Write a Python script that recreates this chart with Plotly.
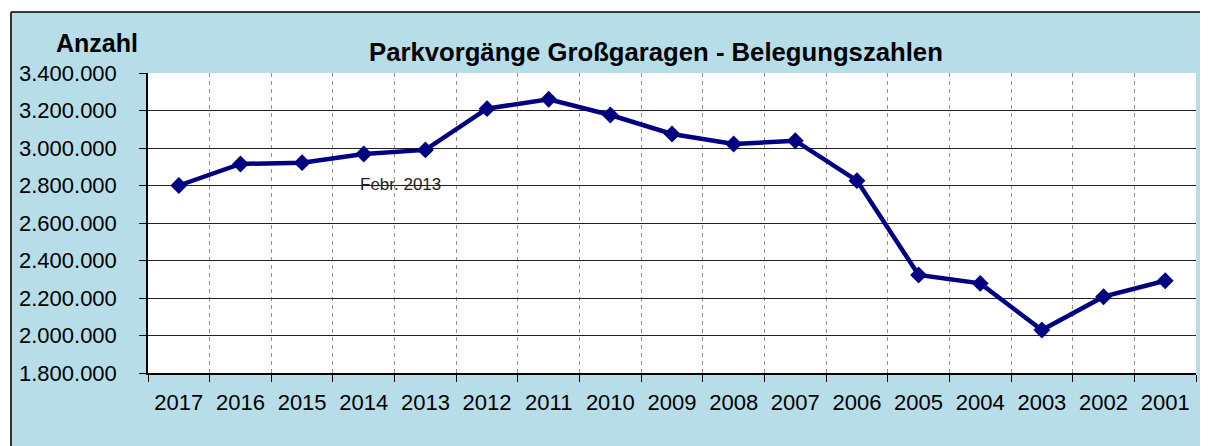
import plotly.graph_objects as go

years = ["2017", "2016", "2015", "2014", "2013", "2012", "2011", "2010", "2009",
         "2008", "2007", "2006", "2005", "2004", "2003", "2002", "2001"]
values = [2800000, 2915000, 2922000, 2968000, 2990000, 3210000, 3260000, 3176000,
          3075000, 3021000, 3039000, 2826000, 2323000, 2278000, 2029000, 2207000, 2292000]
y_ticks = [1800000, 2000000, 2200000, 2400000, 2600000, 2800000, 3000000, 3200000, 3400000]
title_text = "Parkvorgänge Großgaragen - Belegungszahlen"
y_label = "Anzahl"
note_text = "Febr. 2013"

# page body has an 8px margin; work in window pixels and convert
OFF = 8
WIN_W, WIN_H = 1208, 446
W, H = WIN_W - OFF, WIN_H - OFF
L, R, T, B = 148, 1196, 73, 373  # plot area in window pixels
PW, PH = R - L, B - T

def px(x):
    return (x - L) / PW

def py(y):
    return (B - y) / PH

BLUE = "rgb(183,221,232)"
NAVY = "#000080"

fig = go.Figure()
fig.add_trace(go.Scatter(
    x=years, y=values, mode="lines+markers",
    line=dict(color=NAVY, width=4.5),
    marker=dict(symbol="diamond", size=13, color=NAVY),
    hoverinfo="x+y", showlegend=False,
))

font = "Liberation Sans, Arial, sans-serif"

fig.update_layout(
    width=W, height=H,
    margin=dict(l=L - OFF, r=WIN_W - R, t=T - OFF, b=WIN_H - B, pad=0, autoexpand=False),
    paper_bgcolor=BLUE,
    plot_bgcolor="white",
    separators=",.",
    font=dict(family=font, color="black", size=22),
    showlegend=False,
)

fig.update_xaxes(
    type="category", categoryorder="array", categoryarray=years,
    range=[-0.5, len(years) - 0.5],
    tickson="boundaries", ticks="outside", ticklen=7, tickcolor="black", tickwidth=1,
    showline=True, linecolor="black", linewidth=1.5,
    showgrid=True, gridcolor="#909090", gridwidth=1, griddash="4px,4px",
    tickfont=dict(size=22, family=font, color="black"),
    tickangle=0, automargin=False,
    ticklabelstandoff=9,
)
fig.update_yaxes(
    range=[y_ticks[0], y_ticks[-1]], tickvals=y_ticks, tickformat=",d",
    ticks="outside", ticklen=7, tickcolor="black", tickwidth=1,
    showline=True, linecolor="black", linewidth=1.5,
    showgrid=True, gridcolor="#222222", gridwidth=1, zeroline=False,
    tickfont=dict(size=22, family=font, color="black"),
    automargin=False,
    ticklabelstandoff=18,
)

shapes = [
    dict(type="rect", xref="paper", yref="paper", x0=px(-5), x1=px(WIN_W + 5), y0=py(12), y1=py(-5),
         fillcolor="white", line=dict(width=0)),
    dict(type="rect", xref="paper", yref="paper", x0=px(-5), x1=px(11), y0=py(WIN_H + 5), y1=py(-5),
         fillcolor="white", line=dict(width=0)),
    dict(type="line", xref="paper", yref="paper", x0=px(11), x1=px(WIN_W + 5), y0=py(12), y1=py(12),
         line=dict(color="black", width=1.5)),
    dict(type="line", xref="paper", yref="paper", x0=px(11), x1=px(11), y0=py(12), y1=py(WIN_H + 5),
         line=dict(color="#333333", width=2)),
]
fig.update_layout(shapes=shapes)

fig.add_annotation(text="<b>" + title_text + "</b>", xref="paper", yref="paper",
                   x=px(656), y=py(52), xanchor="center", yanchor="middle",
                   showarrow=False, font=dict(size=25.7, family=font, color="black"))
fig.add_annotation(text="<b>" + y_label + "</b>", xref="paper", yref="paper",
                   x=px(97), y=py(43), xanchor="center", yanchor="middle",
                   showarrow=False, font=dict(size=25, family=font, color="black"))
fig.add_annotation(text=note_text, xref="x", yref="y", x=3.6, y=2808000,
                   xanchor="center", yanchor="middle", showarrow=False,
                   font=dict(size=17, family=font, color="#222222"))

fig.write_html("out.html")
